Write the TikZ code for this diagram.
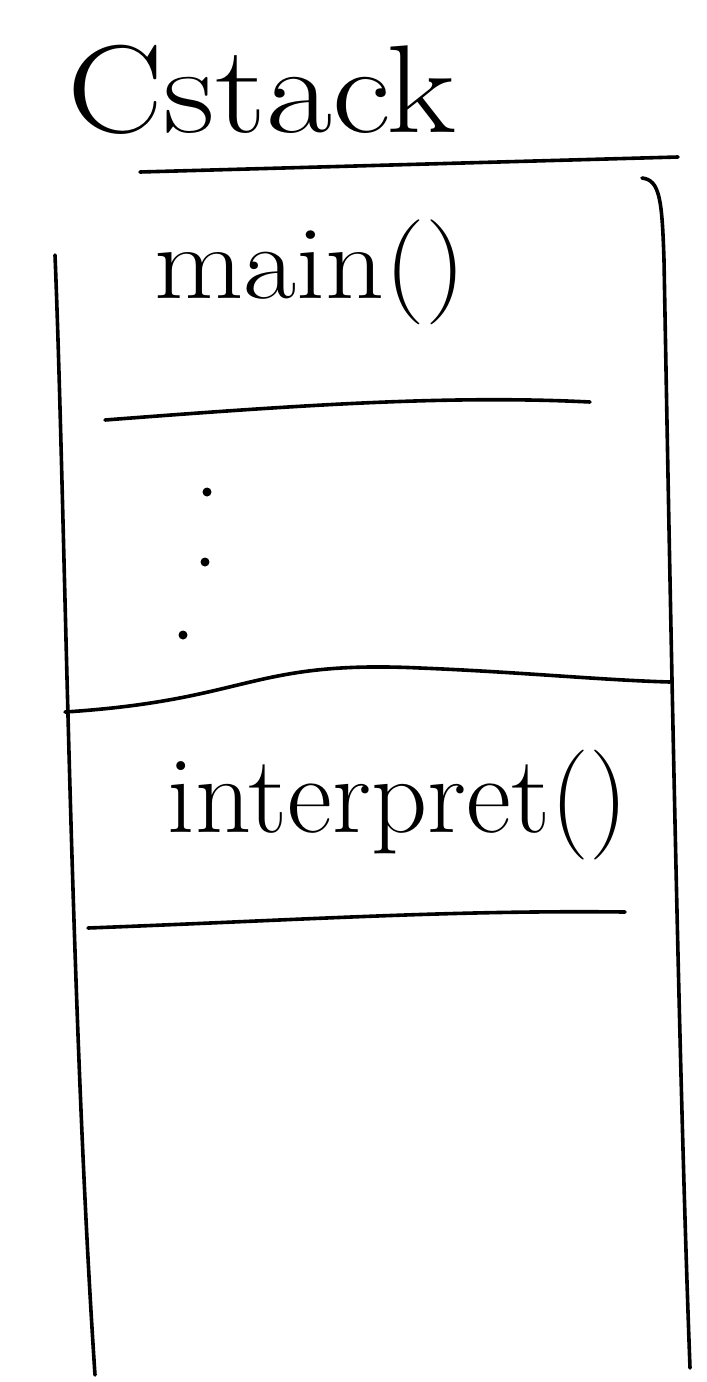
\documentclass[tikz,border=0pt]{standalone}
\usepackage{fontspec}
\begin{document}
\begin{tikzpicture}[x=1pt,y=-1pt,
  pen/.style={line width=3.6pt,line cap=round,line join=round,black},
  hand/.style={inner sep=0pt,anchor=center}]
\useasboundingbox (0,0) rectangle (707,1382);
\fill[white] (0,0) rectangle (707,1382);
% title
\node[hand,font=\fontsize{125}{125}\selectfont,xscale=1.15] (title) at (262,90) {Cstack};
% frame
\coordinate (tl) at (140,172);
\coordinate (tr) at (678,157);
\draw[pen] (tl) -- (tr);
\coordinate (rw1) at (642,178);
\coordinate (rw2) at (690,1368);
\draw[pen] (rw1) .. controls (660,180) and (662,200) .. (664,260) .. controls (672,700) and (680,1100) .. (rw2);
\coordinate (lw1) at (55,255);
\coordinate (lw2) at (95,1375);
\draw[pen] (lw1) .. controls (65,500) and (70,1000) .. (lw2);
% main()
\node[hand,font=\fontsize{105}{105}\selectfont,xscale=1.1] (main) at (310,272) {main()};
\coordinate (l1a) at (105,420);
\coordinate (l1b) at (590,402);
\draw[pen] (l1a) .. controls (300,405) and (450,395) .. (l1b);
% dots
\node[circle,fill=black,inner sep=0pt,minimum size=9pt] (d1) at (207,492) {};
\node[circle,fill=black,inner sep=0pt,minimum size=9pt] (d2) at (205,562) {};
\node[circle,fill=black,inner sep=0pt,minimum size=9pt] (d3) at (183,635) {};
% line 2
\coordinate (l2a) at (65,712);
\coordinate (l2b) at (670,682);
\draw[pen] (l2a) .. controls (250,700) and (250,660) .. (420,668) .. controls (520,672) and (600,680) .. (l2b);
% interpret()
\node[hand,font=\fontsize{110}{110}\selectfont] (interp) at (398,805) {interpret()};
\coordinate (l3a) at (88,928);
\coordinate (l3b) at (625,912);
\draw[pen] (l3a) .. controls (300,920) and (450,910) .. (l3b);
\end{tikzpicture}
\end{document}
